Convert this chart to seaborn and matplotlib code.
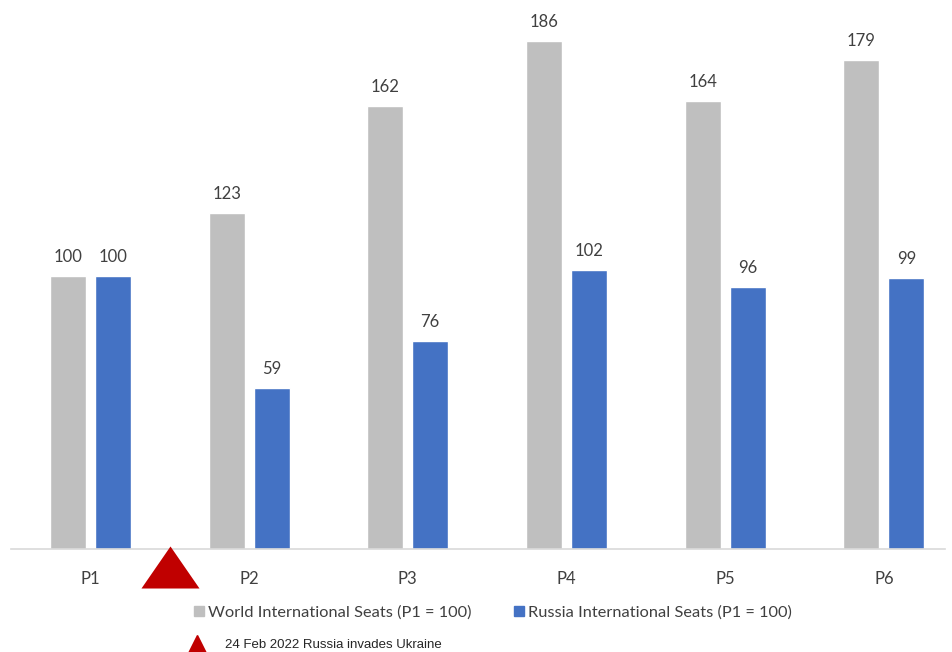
import matplotlib
matplotlib.use("Agg")
import matplotlib.pyplot as plt
from matplotlib.lines import Line2D
import seaborn as sns
import pandas as pd

periods = ["P1", "P2", "P3", "P4", "P5", "P6"]
world = [100, 123, 162, 186, 164, 179]
russia = [100, 59, 76, 102, 96, 99]
series_names = ["World International Seats (P1 = 100)", "Russia International Seats (P1 = 100)"]
event_x = 0.5  # between P1 and P2
event_label = "24 Feb 2022 Russia invades Ukraine"

df = pd.DataFrame({
    "period": periods * 2,
    "value": world + russia,
    "series": [series_names[0]] * 6 + [series_names[1]] * 6,
})

sns.set_style("white")
plt.rcParams["font.family"] = ["Lato", "DejaVu Sans"]

fig = plt.figure(figsize=(9.53, 6.52), dpi=100)
ax = fig.add_axes([11 / 953, 103 / 652, 934 / 953, 549 / 652])

sns.barplot(data=df, x="period", y="value", hue="series",
            palette=["#BFBFBF", "#4472C4"], width=0.567, gap=0.2,
            saturation=1, ax=ax, legend=False)

for cont in ax.containers:
    ax.bar_label(cont, padding=8, fontsize=12, color="#404040")

ax.set_ylim(0, 200.9)
ax.set_xlim(-0.5, -0.5 + 934 / 158.7)
ax.set_xlabel("")
ax.set_ylabel("")
ax.set_yticks([])
ax.tick_params(axis="x", length=0, labelsize=12, labelcolor="#404040", pad=16)
for side in ["top", "right", "left"]:
    ax.spines[side].set_visible(False)
ax.spines["bottom"].set_color("#D9D9D9")
ax.spines["bottom"].set_linewidth(1.2)

# event marker below the axis
tri = [(-1, -0.724), (1, -0.724), (0, 0.724)]
ax.scatter([event_x], [-6.5], marker=tri, s=41.8 ** 2, color="#C00000",
           clip_on=False, zorder=5, linewidths=0)

handles = [Line2D([], [], marker="s", linestyle="", color=c, markersize=7.5)
           for c in ["#BFBFBF", "#4472C4"]]
fig.legend(handles, series_names, loc="center left", bbox_to_anchor=(179 / 953, 1 - 612 / 652),
           ncol=2, frameon=False, handlelength=0.6, handletextpad=0.25,
           columnspacing=2.6, labelcolor="#404040", prop={"size": 11.8})

ev = Line2D([], [], marker="^", linestyle="", color="#C00000", markersize=12.5)
fig.legend([ev], [event_label], loc="center left", bbox_to_anchor=(177 / 953, 1 - 645 / 652),
           frameon=False, handlelength=1.2, handletextpad=1.53, labelcolor="#262626",
           prop={"family": ["Liberation Sans Narrow", "Liberation Sans", "DejaVu Sans"], "size": 9.5})

fig.savefig("out.png", dpi=100)
